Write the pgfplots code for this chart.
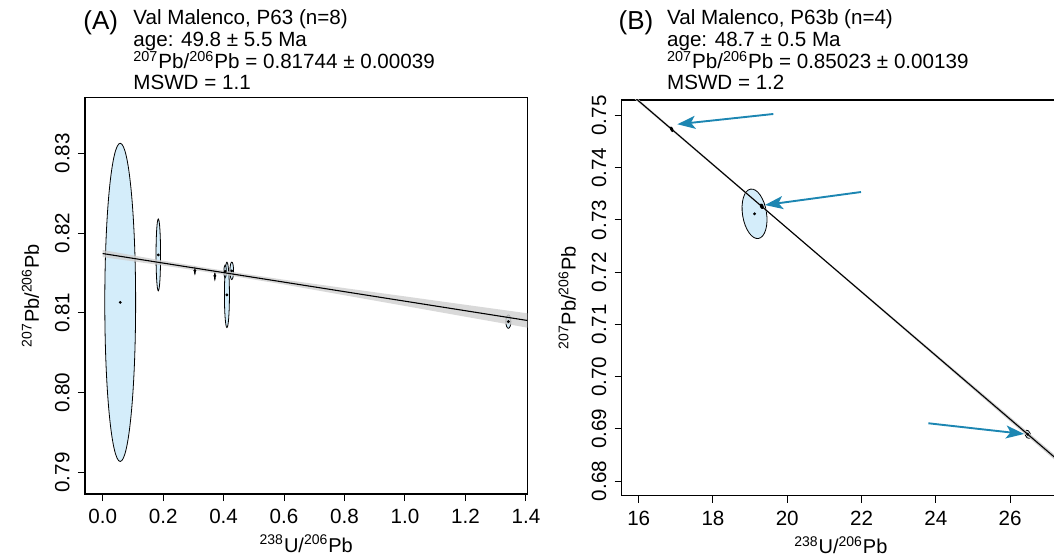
\documentclass[border=0pt]{standalone}
\usepackage{fontspec}
\setmainfont{Liberation Sans}
\usepackage{pgfplots}
\pgfplotsset{compat=1.18}
\usetikzlibrary{arrows.meta,shapes.geometric}
\definecolor{ellfill}{RGB}{212,237,250}
\definecolor{arrowblue}{RGB}{28,134,178}
\definecolor{bandgray}{RGB}{208,208,208}

\pgfplotsset{
  myaxis/.style={
    scale only axis,
    axis line style={black, line width=0.55pt},
    tick style={black, line width=0.5pt},
    tick align=outside,
    major tick length=3.5pt,
    xtick pos=bottom, ytick pos=left,
    /pgf/number format/assume math mode=true,
    tick label style={font=\fontsize{10.3}{12}\selectfont},
    xticklabel style={anchor=north, inner sep=0pt, yshift=-4pt},
    yticklabel style={xshift=-4pt, rotate=90, anchor=south, inner sep=0pt},
    label style={font=\fontsize{10.6}{12}\selectfont},
    every axis x label/.style={at={(axis description cs:0.5,0)}, anchor=base, yshift=-29pt},
    every axis y label/.style={at={(axis description cs:0,0.5)}, xshift=-23pt, rotate=90, anchor=base},
  }
}
\newcommand{\tl}{\fontsize{10.3}{11}\selectfont}
\newcommand{\pl}{\fontsize{13}{14}\selectfont}
\newcommand{\titleblock}[4]{\tl\vtop{\baselineskip=10.833pt\lineskiplimit=-20pt\lineskip=0pt
  \hbox{#1}\hbox{#2}\hbox{#3}\hbox{#4}}}
\tikzset{ttl/.style={anchor=base west, inner sep=0pt},
  arr/.style={arrowblue, line width=0.95pt, -{Stealth[length=9pt,width=6.5pt,inset=2.2pt]}}}

\begin{document}
\begin{tikzpicture}
\useasboundingbox (0pt,0pt) rectangle (527pt,279pt);

% titles
\node[ttl] at (41.5pt,264pt) {\pl (A)};
\node[ttl] at (66.5pt,266.5pt) {\titleblock{Val Malenco, P63 (n=8)}{age: 49.8 ± 5.5 Ma}{\textsuperscript{207}Pb/\textsuperscript{206}Pb = 0.81744 ± 0.00039}{MSWD = 1.1}};

\node[ttl] at (309.15pt,264pt) {\pl (B)};
\node[ttl] at (333.35pt,266.5pt) {\titleblock{Val Malenco, P63b (n=4)}{age: 48.7 ± 0.5 Ma}{\textsuperscript{207}Pb/\textsuperscript{206}Pb = 0.85023 ± 0.00139}{MSWD = 1.2}};

% ---------------- Panel A ----------------
\begin{axis}[myaxis,
  at={(42.5pt,32pt)}, anchor=south west,
  width=221.25pt, height=198.25pt,
  xmin=-0.0585, xmax=1.4053, ymin=0.7873, ymax=0.8370,
  xtick={0,0.2,0.4,0.6,0.8,1.0,1.2,1.4},
  ytick={0.79,0.80,0.81,0.82,0.83},
  xticklabel style={/pgf/number format/.cd, fixed, fixed zerofill, precision=1},
  yticklabel style={/pgf/number format/.cd, fixed, fixed zerofill, precision=2},
  xlabel={\textsuperscript{238}U/\textsuperscript{206}Pb},
  ylabel={\textsuperscript{207}Pb/\textsuperscript{206}Pb},
]
% error ellipses (centre, x radius, y radius in axis units)
\draw[fill=ellfill, line width=0.4pt] (axis cs:0.058,0.81132) ellipse [x radius=0.051, y radius=0.01994];
\draw[fill=ellfill, line width=0.4pt] (axis cs:0.184,0.81727) ellipse [x radius=0.0075, y radius=0.0045];
\draw[fill=ellfill, line width=0.4pt] (axis cs:0.305,0.81530) ellipse [x radius=0.0015, y radius=0.00044];
\draw[fill=ellfill, line width=0.4pt] (axis cs:0.371,0.81464) ellipse [x radius=0.0015, y radius=0.0005];
\draw[fill=ellfill, line width=0.4pt] (axis cs:0.411,0.81226) ellipse [x radius=0.0083, y radius=0.0041];
\draw[fill=ellfill, line width=0.4pt] (axis cs:0.405,0.81520) ellipse [x radius=0.004, y radius=0.0008];
\draw[fill=ellfill, line width=0.4pt] (axis cs:0.427,0.81527) ellipse [x radius=0.006, y radius=0.0011];
\draw[fill=ellfill, line width=0.4pt] (axis cs:1.342,0.80891) ellipse [x radius=0.0083, y radius=0.00084];
% confidence band
\addplot[fill=bandgray, draw=none, fill opacity=0.8] coordinates {
 (0,0.81789) (0.2,0.81654) (0.4,0.81530) (0.6,0.81416) (0.8,0.81311) (1.0,0.81207) (1.2,0.81102) (1.405,0.80995)
 (1.405,0.80815) (1.2,0.80952) (1.0,0.81087) (0.8,0.81221) (0.6,0.81356) (0.4,0.81480) (0.2,0.81594) (0,0.81699)} -- cycle;
% isochron
\addplot[black, line width=0.55pt] coordinates {(0,0.81744) (1.405,0.80905)};
% centres
\addplot[only marks, mark=*, mark size=0.5pt, black] coordinates {
 (0.058,0.81132) (0.184,0.81727) (0.305,0.81530) (0.371,0.81464) (0.411,0.81226) (0.405,0.81520) (0.427,0.81527) (1.342,0.80891)};
\end{axis}

% ---------------- Panel B ----------------
\begin{axis}[myaxis,
  at={(310.85pt,31.15pt)}, anchor=south west,
  width=219.15pt, height=197.85pt,
  xmin=15.542, xmax=27.346, ymin=0.67720, ymax=0.75297,
  xtick={16,18,20,22,24,26},
  ytick={0.68,0.69,0.70,0.71,0.72,0.73,0.74,0.75},
  yticklabel style={/pgf/number format/.cd, fixed, fixed zerofill, precision=2},
  xlabel={\textsuperscript{238}U/\textsuperscript{206}Pb},
  ylabel={\textsuperscript{207}Pb/\textsuperscript{206}Pb},
]
\node[draw=black, fill=ellfill, ellipse, inner sep=0pt, minimum width=12pt, minimum height=25pt, rotate=9, line width=0.4pt] at (axis cs:19.119,0.73118) {};
\node[draw=black, fill=ellfill, ellipse, inner sep=0pt, minimum width=2.6pt, minimum height=4.3pt, rotate=20, line width=0.4pt] at (axis cs:26.477,0.68896) {};
\addplot[fill=bandgray, draw=none] coordinates {
 (15.5,0.75612) (20,0.72856) (24,0.70435) (27.4,0.68384)
 (27.4,0.68284) (24,0.70375) (20,0.72826) (15.5,0.75552)} -- cycle;
\addplot[black, line width=0.55pt] coordinates {(15.5,0.75582) (27.4,0.68334)};
\node[draw=black, fill=black, ellipse, inner sep=0pt, minimum width=1pt, minimum height=2.4pt, rotate=20] at (axis cs:16.889,0.74736) {};
\node[draw=black, fill=black, ellipse, inner sep=0pt, minimum width=1.4pt, minimum height=2.4pt, rotate=20] at (axis cs:19.313,0.73262) {};
\addplot[only marks, mark=*, mark size=0.5pt, black] coordinates {
 (16.889,0.74736) (19.119,0.73118) (19.313,0.73262) (26.477,0.68896)};
% arrows
\draw[arr] (axis cs:19.625,0.75029) -- (axis cs:17.04,0.74832);
\draw[arr] (axis cs:21.987,0.73535) -- (axis cs:19.40,0.73286);
\draw[arr] (axis cs:23.80,0.69107) -- (axis cs:26.377,0.68902);
\end{axis}
\end{tikzpicture}
\end{document}
